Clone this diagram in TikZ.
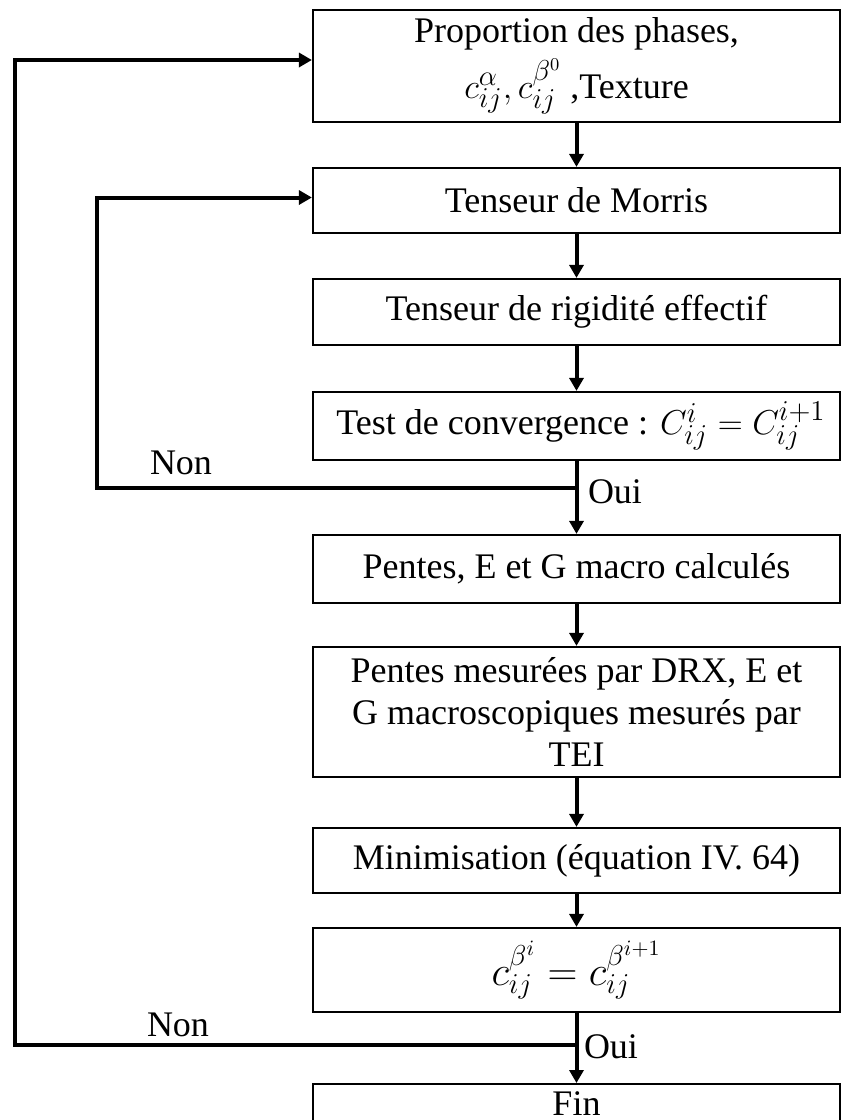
\documentclass[tikz,border=0pt]{standalone}
\usepackage{fontspec}
\setmainfont{Liberation Serif}
\usetikzlibrary{arrows.meta}
\begin{document}
\begin{tikzpicture}[x=0.5pt,y=-0.5pt,
  box/.style={draw, line width=1.1pt, minimum width=263.5pt, align=center,
    font=\fontsize{18}{21}\selectfont, inner sep=0pt},
  flow/.style={line width=2pt, -{Triangle[length=6.5pt,width=7pt]}},
  lab/.style={font=\fontsize{18}{21}\selectfont, inner sep=0pt}]
\useasboundingbox (0,0) rectangle (842,1120);

\node[box, minimum height=56pt] (b1) at (576.5,66)
  {Proportion des phases,\\[3pt] {\fontsize{19}{21}\selectfont$c^{\alpha}_{ij}, c^{\beta^0}_{ij}$} ,Texture};
\node[box, minimum height=32.5pt] (b2) at (576.5,200.5) {Tenseur de Morris};
\node[box, minimum height=33pt] (b3) at (576.5,312) {Tenseur de rigidité effectif};
\node[box, minimum height=34pt] (b4) at (576.5,426)
  {\hspace*{4.5pt}Test de convergence : {\fontsize{19}{21}\selectfont$C^{i}_{ij} = C^{i+1}_{ij}$}};
\node[box, minimum height=34pt] (b5) at (576.5,569) {Pentes, E et G macro calculés};
\node[box, minimum height=65pt] (b6) at (576.5,712)
  {Pentes mesurées par DRX, E et\\G macroscopiques mesurés par\\TEI};
\node[box, minimum height=32.5pt] (b7) at (576.5,860.5) {Minimisation (équation IV. 64)};
\node[box, minimum height=42pt] (b8) at (576.5,970)
  {{\fontsize{21.5}{23}\selectfont$c^{\beta^{i}}_{ij} = c^{\beta^{i+1}}_{ij}$}};
\node[box, minimum height=40pt, anchor=north,
  label={[anchor=north, inner sep=0pt, font=\fontsize{18}{21}\selectfont, yshift=-4pt]north:Fin}]
  (b9) at (576.5,1083) {};

\coordinate (j1) at (576.5,488);
\coordinate (l1) at (97,488);
\coordinate (j2) at (576.5,1045);
\coordinate (l2) at (15,1045);

\draw[flow] (b1.south) -- (b2.north);
\draw[flow] (b2.south) -- (b3.north);
\draw[flow] (b3.south) -- (b4.north);
\draw[flow] (b4.south) -- (b5.north);
\draw[flow] (b5.south) -- (b6.north);
\draw[flow] (b6.south) -- (b7.north);
\draw[flow] (b7.south) -- (b8.north);
\draw[flow] (b8.south) -- (b9.north);

\draw[flow] (j1) -- (l1) |- ([yshift=1.5pt]b2.west);
\draw[flow] (j2) -- (l2) |- ([yshift=3pt]b1.west);

\node[lab] (non1) at (181,463) {Non};
\node[lab] (oui1) at (615,492) {Oui};
\node[lab] (non2) at (178,1025) {Non};
\node[lab] (oui2) at (611,1047) {Oui};
\end{tikzpicture}
\end{document}
